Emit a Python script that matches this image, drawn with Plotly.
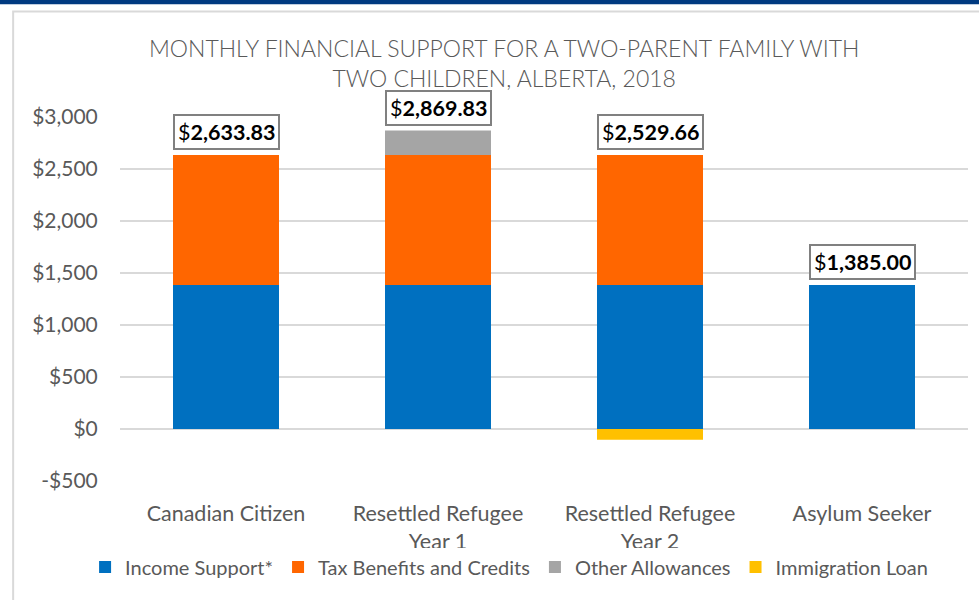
import plotly.graph_objects as go

categories = ["Canadian Citizen", "Resettled Refugee<br>Year 1", "Resettled Refugee<br>Year 2", "Asylum Seeker"]
income_support = [1385.00, 1385.00, 1385.00, 1385.00]
tax_benefits = [1248.83, 1248.83, 1248.83, 0]
other_allowances = [0, 236.00, 0, 0]
immigration_loan = [0, 0, -104.17, 0]
total_labels = ["2,633.83", "2,869.83", "2,529.66", "1,385.00"]
tick_vals = [-500, 0, 500, 1000, 1500, 2000, 2500, 3000]
tick_text = ["-$500", "$0", "$500", "$1,000", "$1,500", "$2,000", "$2,500", "$3,000"]

FONT = "Lato, Carlito, Calibri, sans-serif"
GREY = "#595959"

fig = go.Figure()
series = [
    ("Income Support*", income_support, "#0070C0"),
    ("Tax Benefits and Credits", tax_benefits, "#FF6600"),
    ("Other Allowances", other_allowances, "#A5A5A5"),
    ("Immigration Loan", immigration_loan, "#FFC000"),
]
for name, vals, col in series:
    fig.add_trace(go.Bar(x=categories, y=vals, name=name, marker=dict(color=col, line=dict(width=0)),
                         width=0.5, hoverinfo="y+name"))

# labels sit on top of the positive stack
stack_tops = [sum(v for v in vals if v > 0)
              for vals in zip(income_support, tax_benefits, other_allowances, immigration_loan)]
for c, t, lab in zip(categories, stack_tops, total_labels):
    fig.add_annotation(x=c, y=t, text="$<b>" + lab + "</b>", showarrow=False, yanchor="bottom",
                       yshift=5, font=dict(family=FONT, size=21.5, color="#000000"),
                       bgcolor="white", bordercolor="#808080", borderwidth=2, borderpad=3)

fig.update_layout(
    width=979, height=600,
    barmode="relative",
    bargap=0.5,
    paper_bgcolor="white", plot_bgcolor="white",
    margin=dict(l=120, r=11, t=117, b=119, autoexpand=False),
    font=dict(family=FONT, color=GREY),
    title=dict(text="MONTHLY FINANCIAL SUPPORT FOR A TWO-PARENT FAMILY WITH<br>TWO CHILDREN, ALBERTA, 2018",
               x=0.515, xanchor="center", y=0.905, yanchor="middle",
               font=dict(family=FONT, size=23, color=GREY, weight=300)),
    xaxis=dict(showgrid=False, showline=False, ticks="outside", ticklen=13, tickcolor="rgba(0,0,0,0)",
               tickfont=dict(size=21.5, color=GREY), automargin=False),
    yaxis=dict(range=[-500, 3000], tickvals=tick_vals, ticktext=tick_text, showgrid=True,
               gridcolor="#D9D9D9", gridwidth=1.5, zeroline=False, showline=False, automargin=False,
               tickfont=dict(size=21, color=GREY), ticklen=17, tickcolor="rgba(0,0,0,0)", ticks="outside"),
    legend=dict(orientation="h", xref="container", yref="container", x=0.52, xanchor="center",
                y=1 - 567 / 600, yanchor="middle",
                font=dict(size=20, color=GREY), traceorder="normal", itemwidth=30),
    showlegend=True,
)

# top band and chart frame
fig.add_shape(type="rect", xref="paper", yref="paper", x0=-0.2, x1=1.1, y0=1.310, y1=1.35,
              fillcolor="#003A80", line=dict(width=0), layer="above")
fig.add_shape(type="rect", xref="paper", yref="paper", x0=-0.126, x1=1.1, y0=-0.5, y1=1.290,
              fillcolor="rgba(0,0,0,0)", line=dict(color="#D9D9D9", width=2), layer="below")

fig.write_html("out.html", config={"displayModeBar": False},
               post_script="document.body.style.margin='0';document.body.style.overflow='hidden';")
